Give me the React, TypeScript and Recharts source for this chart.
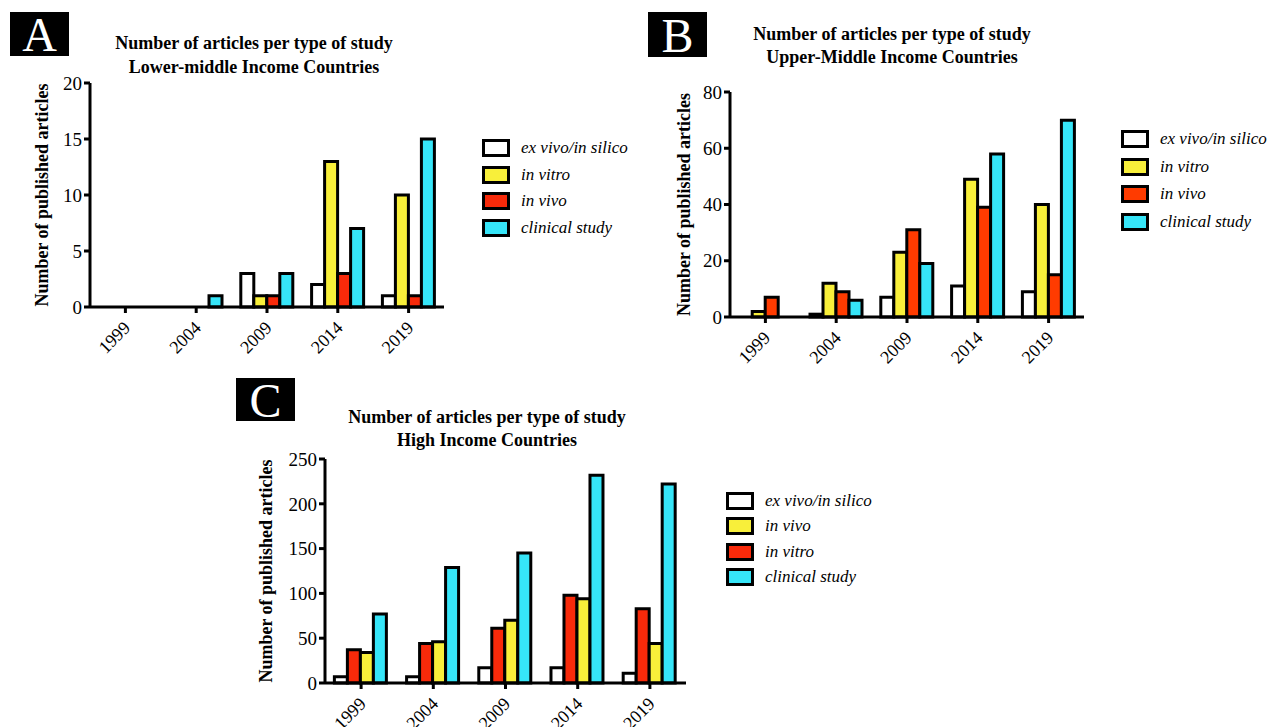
import { BarChart, Bar, XAxis, YAxis } from "recharts";

const years = ["1999", "2004", "2009", "2014", "2019"];

// A - lower-middle income
const lmExVivo = [0, 0, 3, 2, 1];
const lmInVitro = [0, 0, 1, 13, 10];
const lmInVivo = [0, 0, 1, 3, 1];
const lmClinical = [0, 1, 3, 7, 15];
const lmTicks = [0, 5, 10, 15, 20];

// B - upper-middle income
const umExVivo = [0, 1, 7, 11, 9];
const umInVitro = [2, 12, 23, 49, 40];
const umInVivo = [7, 9, 31, 39, 15];
const umClinical = [0, 6, 19, 58, 70];
const umTicks = [0, 20, 40, 60, 80];

// C - high income
const hiExVivo = [7, 7, 17, 17, 11];
const hiInVitro = [37, 44, 61, 98, 83];
const hiInVivo = [34, 46, 70, 94, 44];
const hiClinical = [77, 129, 145, 232, 222];
const hiTicks = [0, 50, 100, 150, 200, 250];

const FONT = '"Liberation Serif", "Times New Roman", serif';
const WHITE = "#ffffff";
const YELLOW = "#f8ef3a";
const RED = "#f82a0a";
const RED_B = "#ff3b00";
const CYAN = "#36e5f8";

const toRows = (cols: Record<string, number[]>) =>
    years.map((year, i) => {
        const row: any = { year };
        Object.keys(cols).forEach((k) => (row[k] = cols[k][i]));
        return row;
    });

const lmData = toRows({ exVivo: lmExVivo, inVitro: lmInVitro, inVivo: lmInVivo, clinical: lmClinical });
const umData = toRows({ exVivo: umExVivo, inVitro: umInVitro, inVivo: umInVivo, clinical: umClinical });
const hiData = toRows({ exVivo: hiExVivo, inVitro: hiInVitro, inVivo: hiInVivo, clinical: hiClinical });

const lmSeries = [
    { key: "exVivo", name: "ex vivo/in silico", color: WHITE },
    { key: "inVitro", name: "in vitro", color: YELLOW },
    { key: "inVivo", name: "in vivo", color: RED },
    { key: "clinical", name: "clinical study", color: CYAN },
];
const umSeries = [
    { key: "exVivo", name: "ex vivo/in silico", color: WHITE },
    { key: "inVitro", name: "in vitro", color: YELLOW },
    { key: "inVivo", name: "in vivo", color: RED_B },
    { key: "clinical", name: "clinical study", color: CYAN },
];
// bars drawn white, red, yellow, cyan but legend lists yellow before red
const hiSeries = [
    { key: "exVivo", name: "ex vivo/in silico", color: WHITE },
    { key: "inVitro", name: "in vitro", color: RED },
    { key: "inVivo", name: "in vivo", color: YELLOW },
    { key: "clinical", name: "clinical study", color: CYAN },
];
const hiLegend = [hiSeries[0], hiSeries[2], hiSeries[1], hiSeries[3]];

const YearTick = ({ x, y, payload }: any) => (
    <g transform={`translate(${x + 1},${y + 9})`}>
        <text x={0} y={0} dy={7} textAnchor="end" transform="rotate(-45)" fontSize={18} fontFamily={FONT} fill="#000">
            {payload.value}
        </text>
    </g>
);

function Panel({ plot, data, series, ticks, labelX }: any) {
    const [px, py, pw, ph] = plot;
    const left = px - 90;
    const top = py - 20;
    return (
        <div style={{ position: "absolute", left, top }}>
            <BarChart
                width={pw + 106}
                height={ph + 80}
                data={data}
                margin={{ top: 20, right: 16, left: 10, bottom: 0 }}
                barCategoryGap="13%"
                barGap={0}
            >
                <XAxis
                    dataKey="year"
                    height={60}
                    axisLine={{ stroke: "#000", strokeWidth: 3 }}
                    tickLine={{ stroke: "#000", strokeWidth: 3 }}
                    tickSize={6}
                    tick={<YearTick />}
                    interval={0}
                />
                <YAxis
                    width={80}
                    domain={[0, ticks[ticks.length - 1]]}
                    ticks={ticks}
                    interval={0}
                    axisLine={{ stroke: "#000", strokeWidth: 3 }}
                    tickLine={{ stroke: "#000", strokeWidth: 3 }}
                    tickSize={6}
                    tickMargin={2}
                    tick={{ fill: "#000", fontSize: 19, fontFamily: FONT }}
                    label={{
                        value: "Number of published articles",
                        angle: -90,
                        position: "insideLeft",
                        offset: labelX - left - 10,
                        style: { textAnchor: "middle", fontWeight: "bold", fontSize: 18, fontFamily: FONT, fill: "#000" },
                    }}
                />
                {series.map((s: any) => (
                    <Bar key={s.key} dataKey={s.key} name={s.name} fill={s.color} stroke="#000" strokeWidth={3} isAnimationActive={false} />
                ))}
            </BarChart>
        </div>
    );
}

function Title({ cx, top, lines }: any) {
    return (
        <div
            style={{
                position: "absolute",
                left: cx - 200,
                top,
                width: 400,
                textAlign: "center",
                fontFamily: FONT,
                fontWeight: "bold",
                fontSize: 18,
                lineHeight: `${lines.gap}px`,
            }}
        >
            {lines.text.map((t: string) => (
                <div key={t}>{t}</div>
            ))}
        </div>
    );
}

function Tag({ letter, x, y, w, h }: any) {
    return (
        <div
            style={{
                position: "absolute",
                left: x,
                top: y,
                width: w,
                height: h,
                background: "#000",
                color: "#fff",
                fontFamily: FONT,
                fontSize: 48,
                lineHeight: `${h + 2}px`,
                textAlign: "center",
            }}
        >
            {letter}
        </div>
    );
}

function LegendBox({ x, y, gap, items }: any) {
    return (
        <div style={{ position: "absolute", left: x, top: y }}>
            {items.map((s: any, i: number) => (
                <div key={s.key} style={{ position: "absolute", left: 0, top: i * gap, display: "flex", alignItems: "center", height: 20, whiteSpace: "nowrap" }}>
                    <div style={{ width: 28, height: 18, boxSizing: "border-box", border: "3px solid #000", background: s.color }} />
                    <span style={{ marginLeft: 11, fontFamily: FONT, fontStyle: "italic", fontSize: 17 }}>{s.name}</span>
                </div>
            ))}
        </div>
    );
}

export default function App() {
    return (
        <div style={{ position: "absolute", left: 0, top: 0, width: 1269, height: 727, background: "#fff" }}>
            <Tag letter="A" x={10} y={12} w={59} h={44} />
            <Tag letter="B" x={648} y={12} w={59} h={45} />
            <Tag letter="C" x={236} y={378} w={59} h={43} />

            <Title cx={254} top={31} lines={{ gap: 24, text: ["Number of articles per type of study", "Lower-middle Income Countries"] }} />
            <Title cx={892} top={23} lines={{ gap: 23, text: ["Number of articles per type of study", "Upper-Middle Income Countries"] }} />
            <Title cx={487} top={406} lines={{ gap: 23, text: ["Number of articles per type of study", "High Income Countries"] }} />

            <Panel plot={[90, 83, 354, 224]} data={lmData} series={lmSeries} ticks={lmTicks} labelX={42} />
            <Panel plot={[730, 92, 354, 225]} data={umData} series={umSeries} ticks={umTicks} labelX={684} />
            <Panel plot={[325, 459, 361, 224]} data={hiData} series={hiSeries} ticks={hiTicks} labelX={266} />

            <LegendBox x={482} y={138} gap={26.7} items={lmSeries} />
            <LegendBox x={1121} y={129} gap={27.5} items={umSeries} />
            <LegendBox x={726} y={491} gap={25.3} items={hiLegend} />
        </div>
    );
}
